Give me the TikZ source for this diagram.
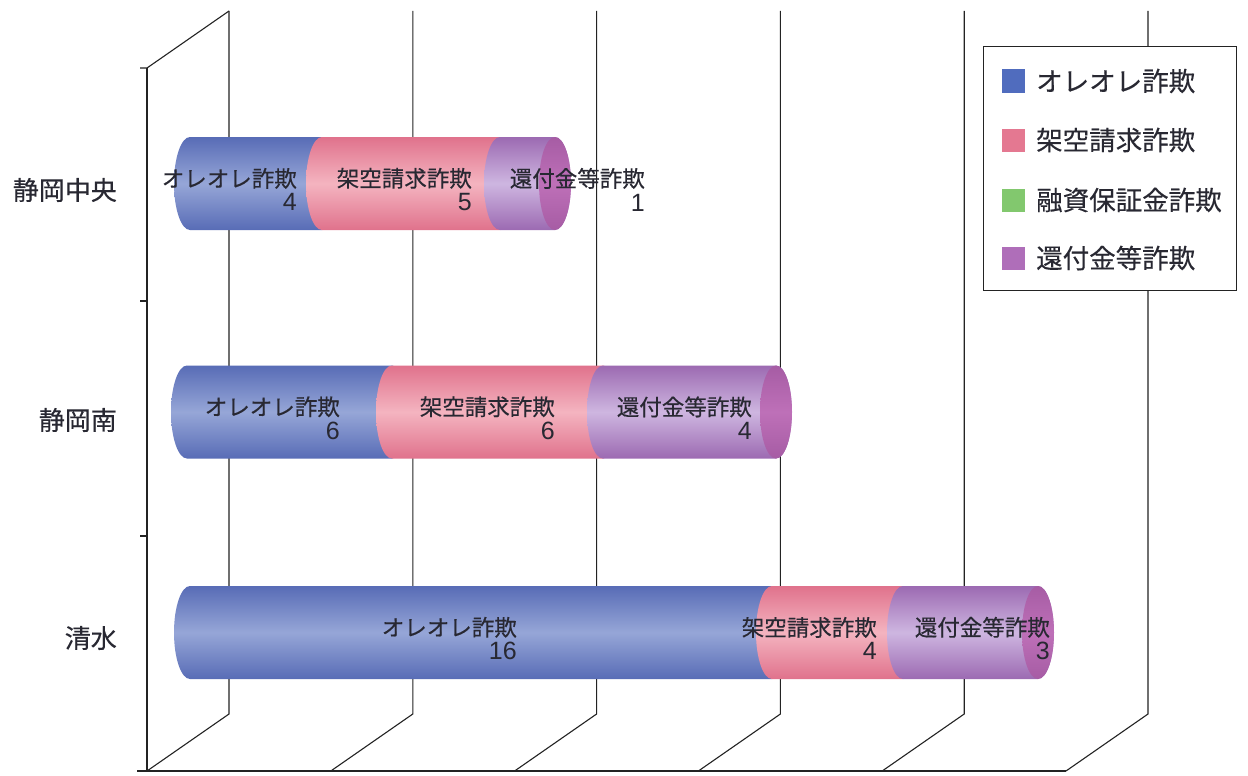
\documentclass[tikz,border=0pt]{standalone}
\usepackage{fontspec}
\setmainfont{Noto Sans CJK JP}[FakeBold=0.35]
\newfontfamily\numf{Liberation Sans}
\definecolor{gridc}{RGB}{35,35,35}
\definecolor{txtc}{RGB}{40,40,50}
\definecolor{blueE}{RGB}{88,108,182}
\definecolor{blueM}{RGB}{150,166,215}
\definecolor{pinkE}{RGB}{224,114,140}
\definecolor{pinkM}{RGB}{244,180,192}
\definecolor{purpE}{RGB}{156,106,178}
\definecolor{purpM}{RGB}{206,182,224}
\definecolor{capC}{RGB}{190,112,184}
\definecolor{capE}{RGB}{166,92,164}
\definecolor{legB}{RGB}{80,108,190}
\definecolor{legP}{RGB}{228,120,145}
\definecolor{legG}{RGB}{130,200,110}
\definecolor{legV}{RGB}{175,110,185}
\tikzset{
  gridline/.style={draw=gridc, line width=1.1pt},
  segblue/.style={top color=blueE, bottom color=blueE, middle color=blueM},
  segpink/.style={top color=pinkE, bottom color=pinkE, middle color=pinkM},
  segpurp/.style={top color=purpE, bottom color=purpE, middle color=purpM},
  barlabel/.style={anchor=east, align=right, text=txtc, inner sep=0pt,
    font=\fontsize{22.5}{24}\selectfont},
  catlabel/.style={anchor=east, text=txtc, inner sep=0pt,
    font=\fontsize{26}{28}\selectfont},
  leglabel/.style={anchor=west, text=txtc, inner sep=0pt,
    font=\fontsize{26.5}{28}\selectfont},
  legsq/.style={minimum size=23pt, inner sep=0pt, draw=none}
}
\newcommand\numtxt[1]{{\numf\fontsize{25}{24}\selectfont #1}}
% segment: xa, xb, yc, style
\newcommand\cylpiece[4]{%
  \path[#4] (#1,#3-46.5) arc[start angle=270, end angle=90, x radius=16, y radius=46.5]
    -- (#2,#3+46.5) arc[start angle=90, end angle=-90, x radius=16, y radius=46.5] -- cycle;}
\newcommand\cylcap[2]{%
  \path[top color=capE, bottom color=capE, middle color=capC] (#1,#2) ellipse[x radius=16, y radius=46.5];}
\begin{document}
\begin{tikzpicture}[x=1pt,y=-1pt]
\useasboundingbox[fill=white] (0,0) rectangle (1248,776);
% ---- grid / walls ----
\coordinate (axtop) at (147,68);
\coordinate (axbot) at (147,771);
\draw[gridline] (axtop) -- (axbot);
\draw[gridline] (140,68) -- (axtop) -- (229,11);
\draw[gridline] (140,301) -- (147,301);
\draw[gridline] (140,536) -- (147,536);
\draw[gridline] (137,771) -- (1066,771);
\foreach \i in {0,...,5}{
  \pgfmathsetmacro\fx{147+183.8*\i}
  \pgfmathsetmacro\bx{229+183.8*\i}
  \coordinate (f\i) at (\fx,771);
  \coordinate (b\i) at (\bx,714);
  \coordinate (t\i) at (\bx,11);
  \draw[gridline] (f\i) -- (b\i) -- (t\i);
}
% ---- bars ----
% 静岡中央
\cylpiece{190}{322}{183.5}{segblue}
\cylpiece{322}{500}{183.5}{segpink}
\cylpiece{500}{555}{183.5}{segpurp}
\cylcap{555}{183.5}
% 静岡南
\cylpiece{187}{392}{412}{segblue}
\cylpiece{392}{603}{412}{segpink}
\cylpiece{603}{776}{412}{segpurp}
\cylcap{776}{412}
% 清水
\cylpiece{190}{772}{632.5}{segblue}
\cylpiece{772}{903}{632.5}{segpink}
\cylpiece{903}{1038}{632.5}{segpurp}
\cylcap{1038}{632.5}
% ---- bar labels ----
\node[barlabel] (a1) at (297,189.5) {オレオレ詐欺\\\numtxt{4}};
\node[barlabel] (a2) at (472,189.5) {架空請求詐欺\\\numtxt{5}};
\node[barlabel] (a3) at (645,189.5) {還付金等詐欺\\\numtxt{1}};
\node[barlabel] (b1) at (340,418) {オレオレ詐欺\\\numtxt{6}};
\node[barlabel] (b2) at (555,418) {架空請求詐欺\\\numtxt{6}};
\node[barlabel] (b3) at (752,418) {還付金等詐欺\\\numtxt{4}};
\node[barlabel] (c1) at (517,638.5) {オレオレ詐欺\\\numtxt{16}};
\node[barlabel] (c2) at (877,638.5) {架空請求詐欺\\\numtxt{4}};
\node[barlabel] (c3) at (1050,638.5) {還付金等詐欺\\\numtxt{3}};
% ---- category labels ----
\node[catlabel] (k1) at (117,190) {静岡中央};
\node[catlabel] (k2) at (117,420) {静岡南};
\node[catlabel] (k3) at (117,638) {清水};
% ---- legend ----
\node[draw=gridc, line width=1.1pt, fill=white, minimum width=253pt, minimum height=244pt,
  inner sep=0pt, anchor=north west] (leg) at (983,46) {};
\node[legsq, fill=legB] (s1) at (1013.5,81) {};
\node[legsq, fill=legP] (s2) at (1013.5,140) {};
\node[legsq, fill=legG] (s3) at (1013.5,200) {};
\node[legsq, fill=legV] (s4) at (1013.5,258) {};
\node[leglabel] (l1) at (1036,81) {オレオレ詐欺};
\node[leglabel] (l2) at (1036,140) {架空請求詐欺};
\node[leglabel] (l3) at (1036,200) {融資保証金詐欺};
\node[leglabel] (l4) at (1036,258) {還付金等詐欺};
\end{tikzpicture}
\end{document}
